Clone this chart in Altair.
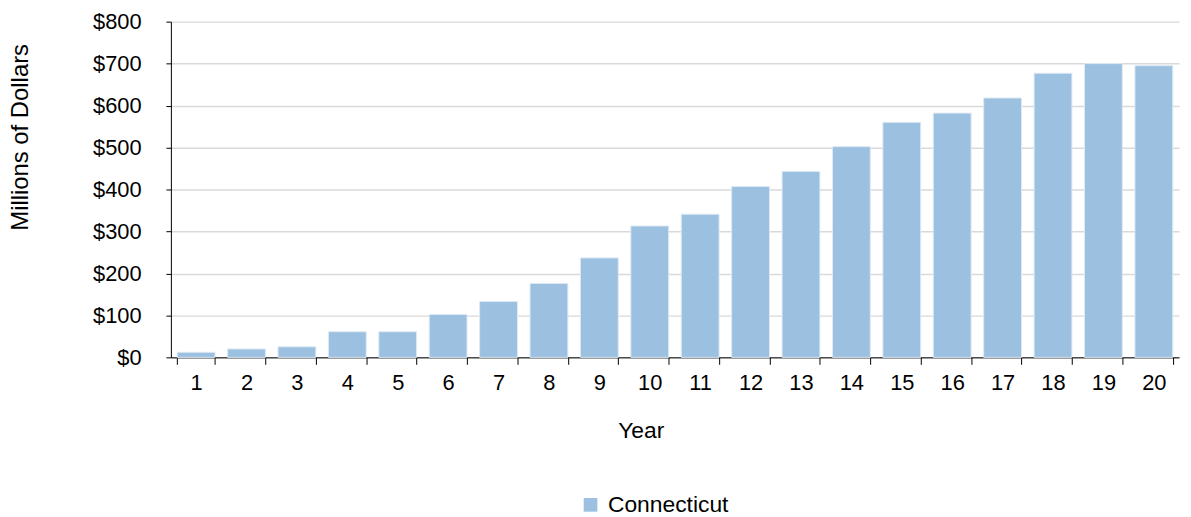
import altair as alt
import pandas as pd

years = [str(i) for i in range(1, 21)]
values = [12, 20, 25, 61, 61, 102, 133, 176, 237, 313, 341, 407, 443, 502, 560, 582, 618, 677, 700, 695]
series = ["Connecticut"] * 20

df = pd.DataFrame({"Year": years, "Value": values, "Series": series})

FONT = "Liberation Sans"

chart = alt.Chart(df).mark_bar(
    stroke="#dde9f5", strokeWidth=1
).encode(
    x=alt.X("Year:N", sort=years,
            scale=alt.Scale(paddingInner=0.25, paddingOuter=0.125),
            axis=alt.Axis(title="Year", labelAngle=0, tickBand="extent",
                          domainColor="black", tickColor="black", tickSize=7,
                          labelFontSize=22, labelColor="black", labelPadding=8,
                          titleFontSize=23, titleFontWeight="normal", titleColor="black",
                          titleX=473, titleY=74, titleBaseline="middle",
                          labelFont=FONT, titleFont=FONT, grid=False)),
    y=alt.Y("Value:Q",
            scale=alt.Scale(domain=[0, 800]),
            axis=alt.Axis(title="Millions of Dollars", format="$,.0f",
                          values=list(range(0, 801, 100)),
                          domainColor="black", tickColor="black", tickSize=5,
                          labelFontSize=22, labelColor="black", labelPadding=25,
                          titleFontSize=24, titleFontWeight="normal", titleColor="black",
                          titleX=-151, titleY=116, titleBaseline="middle", titleAlign="center",
                          labelFont=FONT, titleFont=FONT,
                          gridColor="#d9d9d9", gridWidth=1.5)),
    color=alt.Color("Series:N",
                    scale=alt.Scale(range=["#9bc0e0"]),
                    legend=alt.Legend(title=None, orient="none", legendX=411, legendY=475,
                                      labelFontSize=23, labelFont=FONT, labelColor="black",
                                      labelOffset=6,
                                      symbolType="square", symbolSize=190, symbolStrokeWidth=0,
                                      symbolOpacity=1))
).properties(
    width=1015, height=338,
    padding={"left": 164, "top": 12, "right": 4, "bottom": 157},
    autosize=alt.AutoSizeParams(type="none")
).configure_view(stroke=None)

chart.save("out.html", embed_options={"renderer": "svg", "actions": False})
